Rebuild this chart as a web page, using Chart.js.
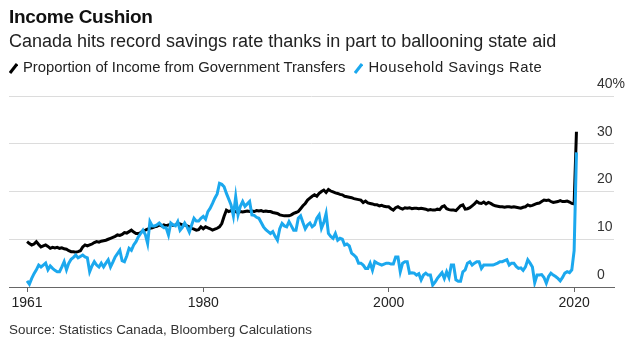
<!DOCTYPE html>
<html>
<head>
<meta charset="utf-8">
<script src="https://cdn.jsdelivr.net/npm/chart.js@4.4.1/dist/chart.umd.min.js"></script>
<style>
  body { margin: 0; background: #fff; font-family: 'Liberation Sans', Arial, sans-serif; color: #111; }
  #wrap { position: relative; width: 643px; height: 362px; overflow: hidden; }
  #chart { position: absolute; left: 0; top: 0; }
  .txt { position: absolute; left: 9px; white-space: nowrap; }
  #title { top: 7px; font-size: 19px; line-height: 20px; font-weight: bold; letter-spacing: -0.3px; }
  #subtitle { top: 31px; font-size: 18px; line-height: 20px; color: #222; }
  #legend { top: 59px; font-size: 14.8px; line-height: 16px; color: #222; }
  #legend svg { vertical-align: -2px; margin-right: 5px; }
  #legend .item2 { margin-left: 9px; letter-spacing: 0.5px; }
  #source { top: 322px; font-size: 13.4px; line-height: 15px; color: #333; }
</style>
</head>
<body>
<div id="wrap">
  <canvas id="chart" width="643" height="362"></canvas>
  <div class="txt" id="title">Income Cushion</div>
  <div class="txt" id="subtitle">Canada hits record savings rate thanks in part to ballooning state aid</div>
  <div class="txt" id="legend"><svg width="9" height="12"><line x1="1" y1="11" x2="8" y2="2" stroke="#000" stroke-width="3"/></svg>Proportion of Income from Government Transfers<span class="item2"><svg width="9" height="12"><line x1="1" y1="11" x2="8" y2="2" stroke="#1ba8ee" stroke-width="3"/></svg>Household Savings Rate</span></div>
  <div class="txt" id="source">Source: Statistics Canada, Bloomberg Calculations</div>
</div>
<script>
// quarterly data, 1961 Q1 .. 2020 Q2
var firstYear = 1961;

var seriesNames = ["Proportion of Income from Government Transfers", "Household Savings Rate"];

// proportion of income from government transfers (%)
var transfers = [
    9.5, 9.1, 8.8, 9.0,     // 1961
    9.5, 8.9, 8.4, 8.6,
    8.8, 8.5, 8.1, 8.3,
    8.2, 8.3, 8.1, 8.2,
    8.0, 7.9, 7.6, 7.4,     // 1965
    7.4, 7.3, 7.4, 7.6,
    8.4, 8.8, 8.6, 8.8,
    9.0, 9.3, 9.5, 9.4,
    9.6, 9.7, 9.8, 10.0,
    10.2, 10.4, 10.6, 10.9, // 1970
    10.8, 11.0, 11.4, 11.3,
    11.6, 11.9, 11.5, 11.2,
    11.2, 11.4, 11.8, 11.9,
    12.1, 12.3, 12.4, 12.6,
    12.7, 13.0, 12.8, 13.0, // 1975
    12.8, 13.0, 13.1, 12.9,
    13.0, 13.3, 13.2, 13.0,
    13.0, 12.8, 12.6, 12.3,
    12.1, 11.9, 12.0, 12.6,
    12.2, 12.6, 12.4, 12.2, // 1980
    11.9, 12.1, 12.3, 12.6,
    13.3, 14.8, 16.1, 15.8,
    16.0, 15.8, 15.8, 15.6,
    15.8, 15.7, 15.8, 15.9,
    15.8, 15.9, 15.8, 16.0, // 1985
    15.9, 16.0, 15.8, 15.9,
    15.8, 15.8, 15.6, 15.5,
    15.4, 15.1, 15.0, 14.9,
    14.9, 14.9, 15.1, 15.4,
    15.6, 15.8, 16.4, 17.0, // 1990
    17.5, 18.2, 18.6, 19.0,
    19.3, 19.0, 19.6, 20.0,
    20.3, 19.8, 20.4, 20.1,
    19.9, 19.7, 19.6, 19.4,
    19.3, 19.0, 18.9, 18.8, // 1995
    18.7, 18.5, 18.4, 18.3,
    18.2, 17.7, 18.0, 17.6,
    17.5, 17.4, 17.2, 17.2,
    17.0, 17.1, 16.9, 16.8,
    16.8, 16.4, 16.1, 16.6, // 2000
    16.8, 16.5, 16.3, 16.6,
    16.5, 16.6, 16.4, 16.5,
    16.5, 16.4, 16.5, 16.4,
    16.3, 16.1, 16.2, 16.1,
    16.1, 16.3, 16.2, 16.8, // 2005
    17.0, 16.4, 16.2, 16.1,
    16.1, 16.0, 16.5, 17.0,
    17.2, 16.3, 16.4, 16.6,
    17.0, 17.4, 17.9, 17.6,
    17.5, 17.8, 17.4, 17.7, // 2010
    17.5, 17.2, 17.0, 16.9,
    16.8, 16.8, 16.7, 16.8,
    16.8, 16.7, 16.8, 16.7,
    16.6, 16.5, 16.7, 16.8,
    17.2, 17.0, 17.1, 17.3, // 2015
    17.5, 17.6, 17.9, 18.2,
    18.1, 18.2, 17.9, 17.7,
    17.8, 17.9, 18.1, 17.9,
    17.9, 18.0, 17.8, 17.5,
    17.4, 32.5              // 2020
];

// household savings rate (%)
var savings = [
    1.3, 0.6, 1.8, 2.8,     // 1961
    3.6, 4.6, 4.2, 4.6,
    5.0, 3.6, 4.4, 3.9,
    3.5, 3.2, 3.2, 4.2,
    5.3, 3.6, 5.0, 5.8,     // 1965
    6.2, 6.7, 6.1, 6.4,
    6.7, 6.3, 6.1, 3.2,
    4.4, 5.3, 4.6, 4.2,
    5.0, 4.2, 5.0, 5.7,
    4.2, 5.2, 6.3, 7.0,     // 1970
    7.7, 5.5, 5.3, 6.5,
    8.1, 7.7, 8.8, 9.5,
    10.5, 11.2, 11.9, 11.0,
    9.1, 13.7, 12.8, 12.8,
    13.0, 13.4, 12.9, 12.4, // 1975
    12.4, 10.9, 13.4, 13.0,
    12.8, 13.7, 11.9, 12.5,
    13.4, 12.6, 11.5, 13.0,
    14.4, 13.8, 13.8, 14.4,
    14.8, 14.2, 15.8, 16.5, // 1980
    17.5, 18.6, 19.5, 21.7,
    21.5, 21.0, 19.6, 18.4,
    17.2, 14.9, 18.9, 15.1,
    16.9, 17.9, 16.9, 17.4,
    17.9, 15.1, 15.0, 14.6, // 1985
    14.4, 13.5, 12.6, 12.0,
    11.6, 11.2, 11.6, 10.6,
    9.8, 12.2, 13.3, 12.8,
    12.6, 13.7, 12.8, 11.9,
    11.9, 14.4, 14.9, 13.5, // 1990
    12.2, 13.0, 13.4, 12.6,
    13.0, 14.4, 15.1, 12.3,
    13.5, 15.4, 11.2, 10.6,
    10.2, 11.2, 9.8, 10.2,
    10.0, 8.8, 9.0, 8.6,    // 1995
    7.1, 6.7, 6.2, 5.0,
    5.0, 4.6, 3.9, 3.9,
    5.0, 3.5, 5.3, 5.0,
    4.8, 4.6, 4.8, 5.0,
    5.0, 4.8, 4.8, 6.3,     // 2000
    6.3, 3.2, 5.0, 5.3,
    5.3, 2.9, 3.0, 2.9,
    2.5, 2.8, 1.5, 2.5,
    2.9, 2.5, 2.5, 0.4,
    1.0, 1.8, 2.4, 3.0,     // 2005
    1.8, 3.2, 2.0, 4.6,
    4.6, 1.5, 1.2, 1.2,
    3.2, 3.6, 5.0, 5.3,
    4.6, 5.0, 5.3, 5.3,
    3.9, 4.6, 4.6, 4.6,     // 2010
    4.6, 4.6, 4.8, 5.0,
    5.3, 5.3, 5.5, 5.7,
    4.6, 5.0, 5.0, 4.3,
    3.9, 4.0, 3.5, 4.2,
    5.7, 5.0, 4.2, 0.9,     // 2015
    2.5, 2.5, 2.6, 2.0,
    0.8, 2.2, 2.9, 2.5,
    2.2, 1.8, 1.3, 2.0,
    2.9, 3.2, 3.0, 3.6,
    7.6, 28.2               // 2020
];

var xTickYears = [1961, 1980, 2000, 2020];
var xTickLabels = ["1961", "1980", "2000", "2020"];
var yTickValues = [0, 10, 20, 30, 40];
var yTickLabels = ["0", "10", "20", "30", "40%"];

function toPoints(values) {
    return values.map(function (v, i) {
        return { x: firstYear + i / 4, y: v };
    });
}

var font = "'Liberation Sans', Arial, sans-serif";

var chart = new Chart(document.getElementById("chart"), {
    type: 'line',
    data: {
        datasets: [{
            label: seriesNames[0],
            data: toPoints(transfers),
            borderColor: '#000000',
            borderWidth: 3,
            pointRadius: 0,
            order: 1
        }, {
            label: seriesNames[1],
            data: toPoints(savings),
            borderColor: '#1ba8ee',
            borderWidth: 3,
            pointRadius: 0,
            order: 0
        }]
    },
    options: {
        responsive: false,
        animation: false,
        layout: {
            padding: { top: 96, left: 9, right: 0, bottom: 50 }
        },
        plugins: {
            legend: { display: false },
            tooltip: { enabled: false }
        },
        scales: {
            x: {
                type: 'linear',
                min: 1959.05,
                max: 2024.3,
                afterBuildTicks: function (s) {
                    s.ticks = xTickYears.map(function (v) { return { value: v }; });
                },
                afterFit: function (s) { s.height = 25; },
                grid: { drawOnChartArea: false, drawTicks: true, tickLength: 5, color: '#666' },
                border: { display: true, color: '#666', width: 1 },
                ticks: {
                    autoSkip: false,
                    maxRotation: 0,
                    padding: 3,
                    color: '#222',
                    font: { family: font, size: 14 },
                    callback: function (v, i) { return xTickLabels[i]; }
                }
            },
            y: {
                position: 'right',
                min: 0,
                max: 40,
                afterBuildTicks: function (s) {
                    s.ticks = yTickValues.map(function (v) { return { value: v }; });
                },
                afterFit: function (s) { s.width = 29; },
                grid: { color: '#dcdcdc', lineWidth: 1, drawTicks: false },
                border: { display: false },
                ticks: {
                    mirror: true,
                    crossAlign: 'far',
                    padding: 11,
                    labelOffset: -12,
                    color: '#333',
                    font: { family: font, size: 14 },
                    callback: function (v, i) { return yTickLabels[i]; }
                }
            }
        }
    }
});
</script>
</body>
</html>
